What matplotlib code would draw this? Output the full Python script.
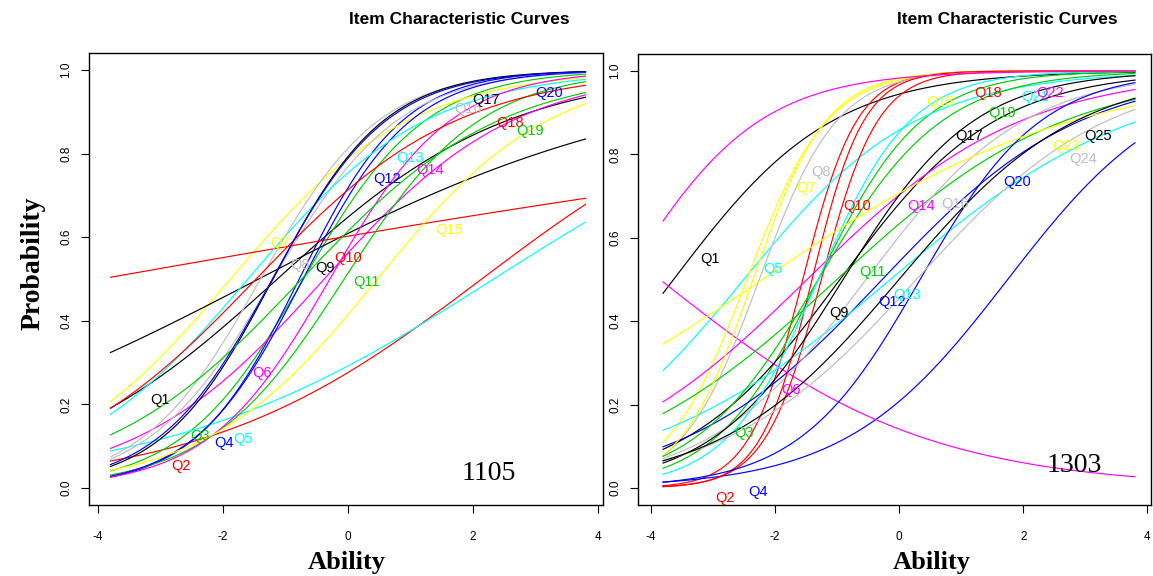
import numpy as np
import matplotlib
matplotlib.use("Agg")
import matplotlib.pyplot as plt

# ---------------- data ----------------
# R default palette used for items (cycled)
palette = ["#000000", "#FF0000", "#00CD00", "#0000FF",
           "#00FFFF", "#FF00FF", "#FFFF00", "#BEBEBE"]

ability_ticks = [-4, -2, 0, 2, 4]
ability_tick_labels = ["-4", "-2", "0", "2", "4"]
prob_ticks = [0.0, 0.2, 0.4, 0.6, 0.8, 1.0]
prob_tick_labels = ["0.0", "0.2", "0.4", "0.6", "0.8", "1.0"]

# Panel 1105 : 2PL item parameters
items_1105 = [f"Q{i}" for i in range(1, 21)]
disc_1105 = [0.54, 0.45, 1.02, 1.20, 0.38, 0.66, 0.70, 1.00, 0.31, 0.105,
             0.92, 1.15, 0.70, 1.03, 0.73, 1.05, 1.12, 0.62, 0.63, 1.09]
diff_1105 = [-1.13, 2.14, -0.71, -0.78, 2.33, -0.38, -1.88, -1.20, -1.43, -3.96,
             -0.06, -0.72, -1.60, -0.29, 0.47, -1.40, -1.20, -1.47, -0.74, -1.21]
label_x_1105 = [-3.01, -2.67, -2.37, -1.98, -1.68, -1.38, -1.09, -0.77, -0.37, 0.00,
                0.29, 0.62, 0.99, 1.31, 1.62, 1.92, 2.21, 2.59, 2.91, 3.22]
label_y_1105 = [0.211, 0.053, 0.124, 0.108, 0.117, 0.275, 0.586, 0.533, 0.526, 0.550,
                0.493, 0.739, 0.789, 0.761, 0.617, 0.907, 0.928, 0.873, 0.854, 0.945]

# Panel 1303
items_1303 = [f"Q{i}" for i in range(1, 26)]
disc_1303 = [0.78, 2.30, 1.20, 0.766, 0.72, -0.4685, 1.55, 1.60, 0.80, 2.20,
             0.545, 0.626, 0.50, 0.58, 1.70, 0.787, 0.95, 2.40, 1.00, 1.026,
             1.35, 0.915, 0.40, 0.65, 0.70]
diff_1303 = [-3.63, -1.55, -1.30, 1.75, -2.50, -3.85, -2.45, -2.25, -0.95, -1.25,
             -1.00, -0.27, -0.14, -1.48, -2.35, -0.53, -0.90, -1.40, -1.30, 0.34,
             -1.30, -4.43, -2.20, 0.28, 0.00]
label_x_1303 = [-3.04, -2.80, -2.50, -2.27, -2.03, -1.74, -1.50, -1.26, -0.97, -0.68,
                -0.43, -0.11, 0.13, 0.35, 0.66, 0.90, 1.13, 1.43, 1.66, 1.90,
                2.19, 2.43, 2.69, 2.96, 3.20]
label_y_1303 = [0.550, -0.024, 0.132, -0.010, 0.524, 0.234, 0.720, 0.758, 0.419, 0.677,
                0.517, 0.447, 0.464, 0.677, 0.926, 0.682, 0.844, 0.947, 0.900, 0.734,
                0.938, 0.947, 0.820, 0.790, 0.844]

ability_grid = np.linspace(-3.8, 3.8, 100)

W, H = 1153, 576
fig = plt.figure(figsize=(W / 100, H / 100), dpi=100)

SANS = ["Liberation Sans", "DejaVu Sans"]
SERIF = ["Liberation Serif", "DejaVu Serif"]


def make_axes(box, xlim):
    l, t, r, b = box
    ax = fig.add_axes([l / W, 1 - b / H, (r - l) / W, (b - t) / H])
    ax.set_xlim(*xlim)
    ax.set_ylim(-0.0407, 1.0407)
    for s in ax.spines.values():
        s.set_linewidth(1.0)
        s.set_color("black")
    ax.set_xticks(ability_ticks)
    ax.set_xticklabels(ability_tick_labels, fontfamily=SANS, fontsize=8.5)
    ax.set_yticks(prob_ticks)
    ax.set_yticklabels(prob_tick_labels, fontfamily=SANS, fontsize=8.5,
                       rotation=90, va="center")
    ax.tick_params(axis="x", direction="out", length=6, width=0.8, pad=13)
    ax.tick_params(axis="y", direction="out", length=6, width=0.8, pad=6)
    return ax


def draw_panel(ax, items, disc, diff, lx, ly):
    for i, name in enumerate(items):
        col = palette[i % len(palette)]
        p = 1.0 / (1.0 + np.exp(-disc[i] * (ability_grid - diff[i])))
        ax.plot(ability_grid, p, color=col, lw=0.85)
    for i, name in enumerate(items):
        col = palette[i % len(palette)]
        ax.text(lx[i], ly[i], name, color=col, fontsize=10.5, fontfamily=SANS,
                ha="center", va="center")


ax1 = make_axes((89, 53, 603, 505), (-4.144, 4.08))
draw_panel(ax1, items_1105, disc_1105, diff_1105, label_x_1105, label_y_1105)
ax1.text((489 - 89) / 514, 1 - (474 - 53) / 452, "1105", transform=ax1.transAxes,
         fontfamily=SERIF, fontsize=20, ha="center", va="center")

ax2 = make_axes((638, 54, 1151, 505), (-4.203, 4.058))
draw_panel(ax2, items_1303, disc_1303, diff_1303, label_x_1303, label_y_1303)
ax2.text((1074 - 638) / 513, 1 - (465 - 54) / 451, "1303", transform=ax2.transAxes,
         fontfamily=SERIF, fontsize=20, ha="center", va="center")

# titles and axis titles
fig.text(459 / W, 1 - 19 / H, "Item Characteristic Curves", fontfamily=SANS,
         fontweight="bold", fontsize=12.5, ha="center", va="center")
fig.text(1007 / W, 1 - 19 / H, "Item Characteristic Curves", fontfamily=SANS,
         fontweight="bold", fontsize=12.5, ha="center", va="center")
fig.text(33 / W, 1 - 263 / H, "Probability", fontfamily=SERIF, fontweight="bold",
         fontsize=20, rotation=90, ha="center", va="center")
fig.text(347 / W, 1 - 563 / H, "Ability", fontfamily=SERIF, fontweight="bold",
         fontsize=19, ha="center", va="center")
fig.text(932 / W, 1 - 563 / H, "Ability", fontfamily=SERIF, fontweight="bold",
         fontsize=19, ha="center", va="center")

fig.savefig("out.png", dpi=100)
